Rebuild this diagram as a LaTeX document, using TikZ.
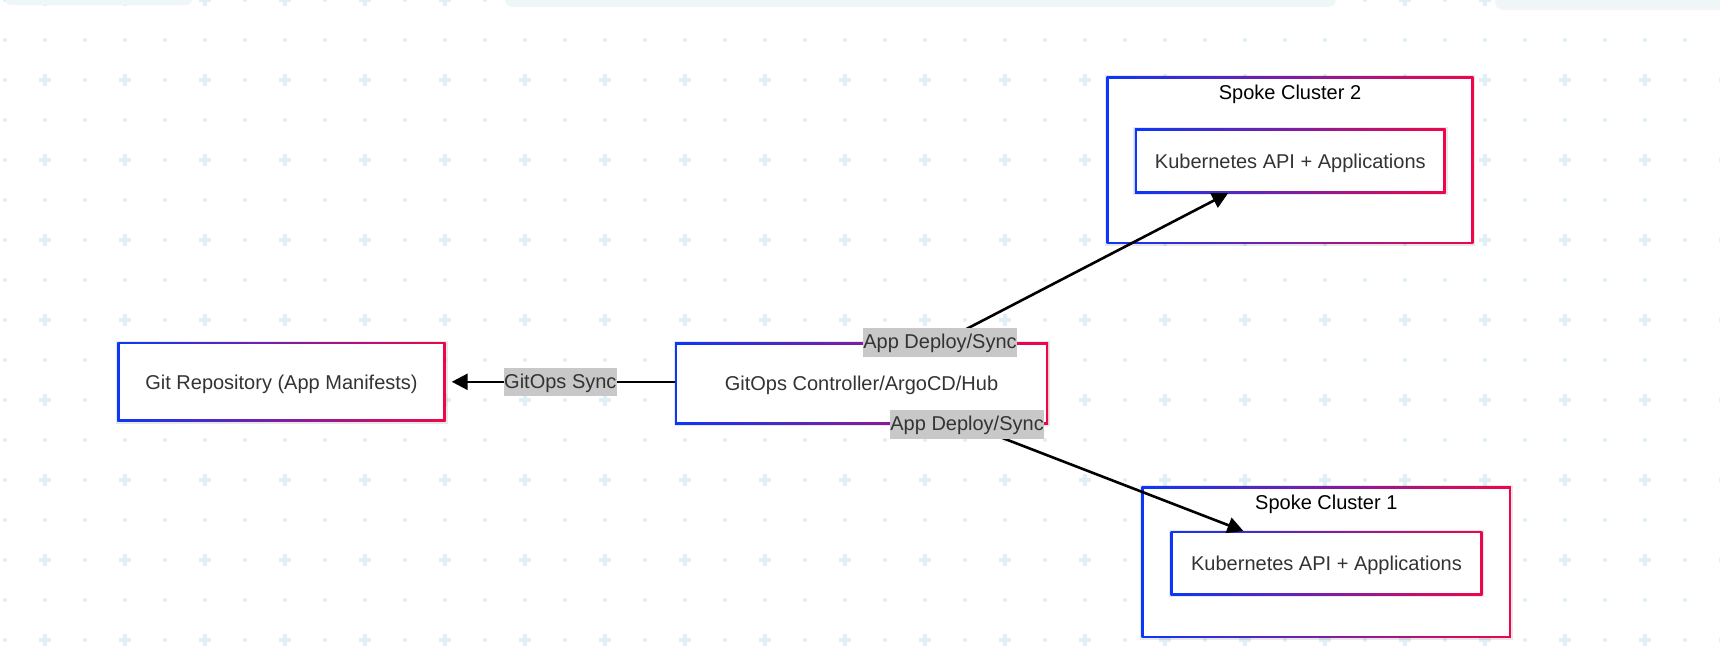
\documentclass[tikz,border=0pt]{standalone}
\usepackage{fontspec}
\setmainfont{Liberation Sans}
\usetikzlibrary{arrows.meta,calc}
\definecolor{gB}{RGB}{10,55,250}
\definecolor{gR}{RGB}{240,5,75}
\definecolor{txt}{RGB}{51,51,51}
\definecolor{gridc}{RGB}{222,240,243}
\definecolor{barc}{RGB}{238,246,248}
\definecolor{labbg}{RGB}{200,200,200}
\pgfdeclarelayer{bglayer}
\pgfdeclarelayer{boxlayer}
\pgfsetlayers{bglayer,boxlayer,main}
\newcommand\gradbox[1]{%
  \fill[black,opacity=0.09] ([shift={(-1.5,-1.5)}]#1.north west) rectangle ([shift={(2,2)}]#1.south east);
  \shade[left color=gB,right color=gR] (#1.north west) rectangle (#1.south east);
  \fill[white] ([shift={(2.4,2.4)}]#1.north west) rectangle ([shift={(-2.4,-2.4)}]#1.south east);}
\tikzset{
  box/.style={rectangle, inner sep=0pt, outer sep=0pt, text=txt,
    text height=14.4pt, text depth=0pt,
    font=\fontsize{20}{24}\selectfont},
  ttl/.style={inner sep=0pt, text=black, text height=14.4pt, text depth=0pt,
    font=\fontsize{20}{24}\selectfont},
  edge/.style={line width=2.6pt, draw=black, -{Triangle[length=16pt,width=16pt]}},
  elabel/.style={fill=labbg, text=txt, inner xsep=0.5pt, inner ysep=0pt,
    text height=20.5pt, text depth=8pt, font=\fontsize{20}{24}\selectfont}
}
\begin{document}
\begin{tikzpicture}[x=1pt,y=-1pt]
\useasboundingbox (0,0) rectangle (1720,667);
\begin{pgfonlayer}{bglayer}
  \fill[white] (0,0) rectangle (1720,667);
  \foreach \i in {0,...,43}{
    \foreach \j in {0,...,16}{
      \pgfmathtruncatemacro\px{5+40*\i}
      \pgfmathtruncatemacro\py{40*\j}
      \pgfmathtruncatemacro\isplus{(mod(\i,2)==1)&&(mod(\j,2)==0)}
      \ifnum\isplus=1
        \fill[gridc] (\px-6,\py-1.7) rectangle (\px+6,\py+1.7);
        \fill[gridc] (\px-1.7,\py-6) rectangle (\px+1.7,\py+6);
      \else
        \fill[gridc] (\px,\py) circle (2pt);
      \fi
    }
  }
  \fill[barc, rounded corners=6pt] (5,-20) rectangle (192,5);
  \fill[barc, rounded corners=8pt] (505,-20) rectangle (1336,7);
  \fill[black,opacity=0.04, rounded corners=8pt] (1495,-20) rectangle (1740,10);
  \fill[barc, rounded corners=8pt] (1497,-20) rectangle (1740,8);
\end{pgfonlayer}

% nodes
\node[box, minimum width=328.4pt, minimum height=79.5pt] (git) at (281.5,381.8) {Git Repository (App Manifests)};
\node[box, minimum width=373pt, minimum height=81.6pt] (ctrl) at (861.5,383.5) {GitOps Controller/ArgoCD/Hub};
\node[box, minimum width=366.6pt, minimum height=167.3pt] (cl2) at (1290,160.3) {};
\node[ttl] (t2) at (1290,92.2) {Spoke Cluster 2};
\node[box, minimum width=310.7pt, minimum height=64.6pt] (k2) at (1290.3,160.8) {Kubernetes API + Applications};
\node[box, minimum width=369.3pt, minimum height=151.3pt] (cl1) at (1326.3,562.3) {};
\node[ttl] (t1) at (1326.3,502.2) {Spoke Cluster 1};
\node[box, minimum width=311.6pt, minimum height=64.3pt] (k1) at (1326.5,563.2) {Kubernetes API + Applications};

\begin{pgfonlayer}{boxlayer}
  \gradbox{git}
  \gradbox{ctrl}
  \gradbox{cl2}
  \gradbox{k2}
  \gradbox{cl1}
  \gradbox{k1}
\end{pgfonlayer}

% edges
\draw[edge, shorten >=6pt] (ctrl.west |- git.east) -- node[elabel] (lg) {GitOps Sync} (git.east);
\draw[edge] (ctrl) -- node[elabel, pos=0] (lu) {App Deploy/Sync} (k2);
\draw[edge] (ctrl) -- node[elabel, pos=0] (ld) {App Deploy/Sync} (k1);
\end{tikzpicture}
\end{document}
